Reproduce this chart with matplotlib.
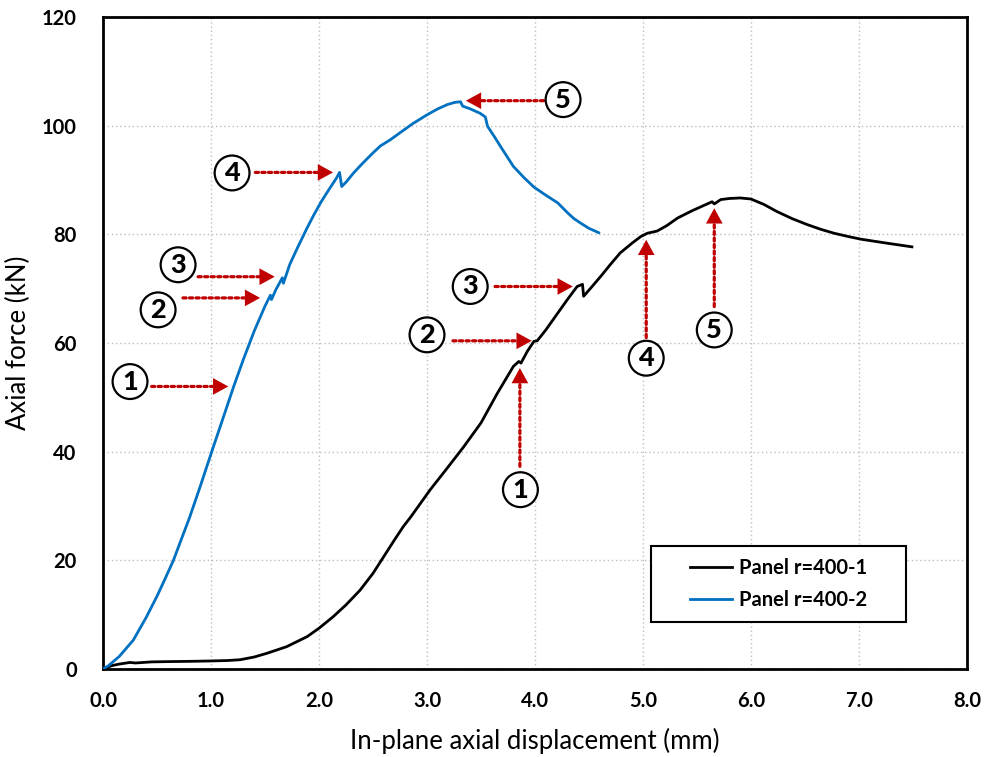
import matplotlib
matplotlib.use("Agg")
import matplotlib.pyplot as plt
from matplotlib.patches import Rectangle
from matplotlib.ticker import FormatStrFormatter

plt.rcParams['font.family'] = ['Lato', 'DejaVu Sans']

# Panel r=400-1 (black)
disp_1 = [0, 0.08, 0.15, 0.25, 0.30, 0.45, 0.59, 0.80, 0.99, 1.15, 1.27, 1.40, 1.52,
          1.70, 1.89, 2.00, 2.13, 2.25, 2.38, 2.50, 2.60, 2.70, 2.78, 2.85, 3.03, 3.20,
          3.34, 3.50, 3.65, 3.80, 3.85, 3.87, 3.93, 3.99, 4.02, 4.10, 4.20, 4.30, 4.39,
          4.44, 4.45, 4.52, 4.61, 4.70, 4.79, 4.90, 4.98, 5.04, 5.13, 5.22, 5.32, 5.45,
          5.55, 5.64, 5.66, 5.72, 5.80, 5.90, 6.00, 6.12, 6.24, 6.38, 6.52, 6.65, 6.77,
          6.90, 7.02, 7.25, 7.49]
force_1 = [0, 0.6, 0.9, 1.2, 1.1, 1.3, 1.35, 1.4, 1.47, 1.55, 1.7, 2.2, 2.9,
           4.1, 5.95, 7.5, 9.6, 11.8, 14.5, 17.6, 20.7, 23.8, 26.2, 28.0, 33.0, 37.3,
           40.9, 45.3, 50.7, 55.7, 56.6, 56.3, 58.5, 60.3, 60.4, 62.4, 65.2, 68.0, 70.4,
           70.8, 68.6, 70.2, 72.3, 74.5, 76.6, 78.4, 79.6, 80.2, 80.6, 81.6, 83.0, 84.3,
           85.2, 86.0, 85.6, 86.4, 86.6, 86.7, 86.5, 85.5, 84.2, 82.9, 81.8, 80.9, 80.2,
           79.6, 79.1, 78.4, 77.7]

# Panel r=400-2 (blue)
disp_2 = [0, 0.05, 0.15, 0.28, 0.40, 0.50, 0.57, 0.65, 0.72, 0.80, 0.90, 1.01, 1.10,
          1.21, 1.30, 1.40, 1.50, 1.55, 1.56, 1.60, 1.66, 1.67, 1.73, 1.80, 1.89, 1.95,
          2.02, 2.10, 2.16, 2.19, 2.21, 2.25, 2.32, 2.40, 2.50, 2.57, 2.66, 2.75, 2.87,
          3.00, 3.10, 3.19, 3.26, 3.31, 3.33, 3.40, 3.49, 3.54, 3.55, 3.56, 3.62, 3.68,
          3.80, 3.90, 3.99, 4.10, 4.21, 4.30, 4.36, 4.42, 4.50, 4.59]
force_2 = [0, 0.6, 2.3, 5.3, 9.5, 13.4, 16.4, 19.9, 23.6, 27.8, 33.6, 40.2, 45.5,
           52.0, 57.0, 62.2, 66.8, 68.8, 68.0, 69.8, 72.0, 71.0, 74.5, 77.5, 81.2, 83.5,
           86.0, 88.5, 90.3, 91.4, 88.8, 89.6, 91.3, 93.0, 95.0, 96.3, 97.4, 98.7, 100.4,
           102.0, 103.1, 103.9, 104.3, 104.4, 103.6, 103.1, 102.3, 101.6, 100.8, 99.9, 98.1, 96.2,
           92.5, 90.4, 88.7, 87.2, 85.8, 84.0, 82.9, 82.1, 81.1, 80.3]

series_labels = ["Panel r=400-1", "Panel r=400-2"]
x_ticks = [0, 1, 2, 3, 4, 5, 6, 7, 8]
y_ticks = [0, 20, 40, 60, 80, 100, 120]

# Event markers: (number, circle centre, arrow start, arrow tip)
events = [
    ("1", (0.25, 52.9), (0.45, 52.0), (1.16, 52.0)),
    ("2", (0.51, 66.1), (0.74, 68.3), (1.455, 68.3)),
    ("3", (0.695, 74.4), (0.88, 72.2), (1.59, 72.2)),
    ("4", (1.195, 91.3), (1.41, 91.4), (2.13, 91.4)),
    ("5", (4.26, 104.8), (4.08, 104.6), (3.36, 104.6)),
    ("1", (3.865, 33.0), (3.86, 37.3), (3.86, 55.4)),
    ("2", (3.00, 61.5), (3.24, 60.4), (3.97, 60.4)),
    ("3", (3.40, 70.4), (3.63, 70.4), (4.35, 70.4)),
    ("4", (5.03, 57.2), (5.03, 61.0), (5.03, 79.0)),
    ("5", (5.66, 62.4), (5.66, 66.7), (5.66, 84.8)),
]

RED = "#C00000"
BLUE = "#0070C0"

fig = plt.figure(figsize=(9.85, 7.57), dpi=100)
ax = fig.add_axes([0.1046, 0.1163, 0.8771, 0.8612])

ax.plot(disp_1, force_1, color="black", lw=2.0, zorder=5, label=series_labels[0])
ax.plot(disp_2, force_2, color=BLUE, lw=2.0, zorder=5, label=series_labels[1])

ax.set_xlim(0, 8)
ax.set_ylim(0, 120)
ax.set_xticks(x_ticks)
ax.set_yticks(y_ticks)
ax.xaxis.set_major_formatter(FormatStrFormatter("%.1f"))
ax.grid(True, color="#BFBFBF", linestyle=(0, (1, 2)), lw=1.0, zorder=0)
ax.set_axisbelow(True)
for s in ax.spines.values():
    s.set_linewidth(2.0)
    s.set_color("black")
ax.tick_params(length=0, labelsize=14.5)
ax.tick_params(axis="x", pad=16)
ax.tick_params(axis="y", pad=19)
for lab in ax.get_xticklabels() + ax.get_yticklabels():
    lab.set_fontweight("bold")

ax.set_xlabel("In-plane axial displacement (mm)", fontsize=18.5, labelpad=12)
ax.set_ylabel("Axial force (kN)", fontsize=18.5, labelpad=8)

# Dotted arrows with circled numbers
for num, c, start, tip in events:
    ax.annotate("", xy=tip, xytext=start,
                arrowprops=dict(arrowstyle="-", color=RED, lw=2.3,
                                linestyle=(0, (1, 1.05)), shrinkA=0, shrinkB=9),
                zorder=6)
    dx = tip[0] - start[0]
    off = (-11 if dx > 0 else 11, 0) if abs(dx) > 0 else (0, -11)
    ax.annotate("", xy=tip, xytext=off, textcoords="offset points",
                arrowprops=dict(arrowstyle="-|>,head_length=1.1,head_width=0.6",
                                mutation_scale=10, color=RED, lw=0,
                                shrinkA=0, shrinkB=0),
                zorder=6)
    ax.text(c[0], c[1], num, fontsize=19.5, fontweight="black", ha="center",
            va="center", zorder=7,
            bbox=dict(boxstyle="circle,pad=0.2", fc="white", ec="black", lw=1.6))

# Legend box
ax.add_patch(Rectangle((0.634, 0.072), 0.295, 0.117, transform=ax.transAxes,
                       fc="white", ec="black", lw=1.5, zorder=8))
leg = ax.legend(loc="center", bbox_to_anchor=(0.782, 0.130), frameon=False,
                prop=dict(weight="bold", size=14.5), handlelength=2.1,
                handletextpad=0.35, labelspacing=0.6)
leg.set_zorder(9)

fig.savefig("out.png", dpi=100)
